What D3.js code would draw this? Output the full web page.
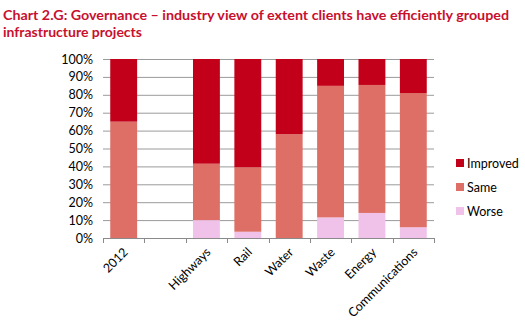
<!DOCTYPE html>
<meta charset="utf-8">
<style>
body, html {
  margin: 0;
  padding: 0;
  background: #fff;
}
.title {
  font: bold 14px Lato, "Open Sans", sans-serif;
  fill: #c8102e;
}
.axis text, .legend text {
  font: 12.5px Lato, "Open Sans", sans-serif;
  fill: #000;
}
</style>
<div id="chart"></div>
<script src="https://d3js.org/d3.v7.min.js"></script>
<script>
const width = 525
const height = 325

// categories (the empty one is the gap after 2012)
const categories = ["2012", "", "Highways", "Rail", "Water", "Waste", "Energy", "Communications"]
const worse    = [0,  null, 10,  3.5, 0,  11.5, 14,   6]
const same     = [65, null, 31.5, 36, 58, 73.5, 71.5, 75]
const improved = [35, null, 58.5, 60.5, 42, 15, 14.5, 19]
const yTicks = [0, 10, 20, 30, 40, 50, 60, 70, 80, 90, 100]

const seriesNames = ["Worse", "Same", "Improved"]
const colors = {Worse: "#f0c2ea", Same: "#dd6f66", Improved: "#c30019"}

const margin = {top: 59, left: 103, right: 91, bottom: 87}

let svg = d3.select("#chart")
  .append("svg")
  .attr("width", width)
  .attr("height", height)

svg.append("text").attr("class", "title").attr("x", 3).attr("y", 20)
  .attr("textLength", 506).attr("lengthAdjust", "spacingAndGlyphs")
  .text("Chart 2.G: Governance \u2013 industry view of extent clients have efficiently grouped")
svg.append("text").attr("class", "title").attr("x", 3).attr("y", 37)
  .text("infrastructure projects")

const x = d3.scaleBand()
  .domain(categories.map((c, i) => i))
  .range([margin.left, width - margin.right])
  .paddingInner(0.35)
  .paddingOuter(0.175)

const y = d3.scaleLinear()
  .domain([0, 100])
  .range([height - margin.bottom, margin.top])

// gridlines
svg.append("g")
  .selectAll("line")
  .data(yTicks)
  .join("line")
  .attr("x1", margin.left)
  .attr("x2", width - margin.right)
  .attr("y1", d => y(d) + 0.5)
  .attr("y2", d => y(d) + 0.5)
  .attr("stroke", "#9a9a9a")
  .attr("stroke-width", 1)

// y labels
svg.append("g").attr("class", "axis")
  .selectAll("text")
  .data(yTicks)
  .join("text")
  .attr("x", margin.left - 10)
  .attr("y", d => y(d) + 4.5)
  .attr("text-anchor", "end")
  .text(d => d + "%")

// stacked bars
const rows = categories.map((c, i) => ({i: i, Worse: worse[i] || 0, Same: same[i] || 0, Improved: improved[i] || 0}))
const stack = d3.stack().keys(seriesNames)(rows)

svg.append("g")
  .selectAll("g")
  .data(stack)
  .join("g")
  .attr("fill", d => colors[d.key])
  .selectAll("rect")
  .data(d => d.filter(s => s[1] - s[0] > 0))
  .join("rect")
  .attr("x", d => x(d.data.i))
  .attr("width", x.bandwidth())
  .attr("y", d => y(d[1]))
  .attr("height", d => y(d[0]) - y(d[1]))

// x axis line and ticks between categories
const step = x.step()
const xAxis = svg.append("g")
xAxis.append("line")
  .attr("x1", margin.left).attr("x2", width - margin.right)
  .attr("y1", y(0) + 0.5).attr("y2", y(0) + 0.5)
  .attr("stroke", "#8a8a8a")
xAxis.selectAll("line.tick")
  .data(d3.range(categories.length + 1))
  .join("line")
  .attr("class", "tick")
  .attr("x1", d => Math.round(margin.left + d * step) + 0.5)
  .attr("x2", d => Math.round(margin.left + d * step) + 0.5)
  .attr("y1", y(0))
  .attr("y2", y(0) + 5)
  .attr("stroke", "#8a8a8a")

// rotated category labels
svg.append("g").attr("class", "axis")
  .selectAll("text")
  .data(categories.map((c, i) => ({c: c, i: i})).filter(d => d.c))
  .join("text")
  .attr("text-anchor", "end")
  .attr("transform", d => "translate(" + (x(d.i) + x.bandwidth() / 2 + 5) + "," + (y(0) + 15) + ") rotate(-45)")
  .text(d => d.c)

// legend
const legendItems = ["Improved", "Same", "Worse"]
const legend = svg.append("g").attr("class", "legend")
  .selectAll("g")
  .data(legendItems)
  .join("g")
  .attr("transform", (d, i) => "translate(456," + (160 + i * 24) + ")")
legend.append("rect")
  .attr("width", 8).attr("height", 8)
  .attr("y", -1)
  .attr("fill", d => colors[d])
legend.append("text")
  .attr("x", 11).attr("y", 8)
  .text(d => d)
</script>
